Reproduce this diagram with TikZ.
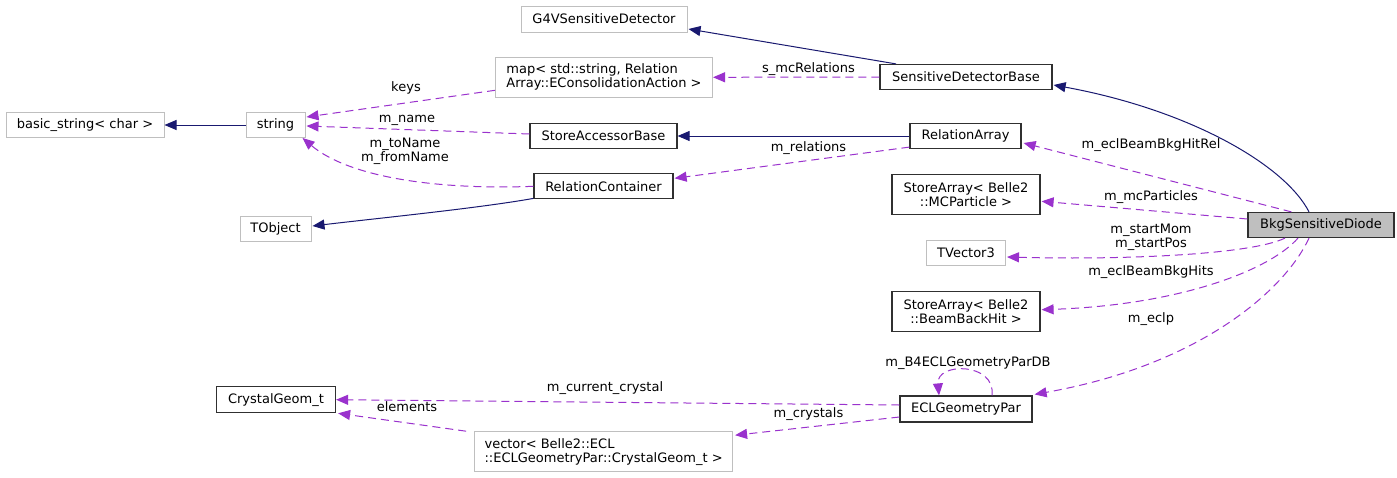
\documentclass[tikz,border=0pt]{standalone}
\usepackage{fontspec}
\setmainfont{DejaVu Sans}
\usetikzlibrary{arrows.meta,calc}
\definecolor{inhc}{HTML}{191970}
\definecolor{usec}{HTML}{9A32CD}
\definecolor{grayb}{HTML}{BFBFBF}
\definecolor{darkb}{HTML}{303030}
\begin{document}
\begin{tikzpicture}[x=1pt,y=-1pt,font=\fontsize{13}{14}\selectfont]
\tikzset{
  box/.style={draw, line width=1pt, inner sep=0pt, minimum height=25pt},
  gbox/.style={box, draw=grayb},
  kbox/.style={box, draw=darkb, line width=1.2pt},
  inh/.style={draw=inhc, line width=1pt, -{Triangle[length=12pt,width=10pt]}},
  use/.style={draw=usec, line width=1pt, dash pattern=on 8pt off 5pt, -{Triangle[length=12pt,width=10pt]}},
  lbl/.style={inner sep=0pt, align=center}
}
\useasboundingbox[fill=white] (0,0) rectangle (1397,477);
% nodes
\node[gbox, minimum width=166pt, minimum height=26pt] (g4v) at (604,19) {G4VSensitiveDetector};
\node[gbox, minimum width=217pt, minimum height=40pt, align=left] (map) at (604,77.3) {map< std::string, Relation\\Array::EConsolidationAction >};
\node[gbox, minimum width=158pt] (bstr) at (85,125) {basic\_string< char >};
\node[gbox, minimum width=59pt] (str) at (275.5,125) {string};
\node[kbox, minimum width=147pt] (sab) at (603.5,136) {StoreAccessorBase};
\node[kbox, minimum width=139pt] (rc) at (603.5,186.3) {RelationContainer};
\node[gbox, minimum width=71pt] (tobj) at (275.5,229) {TObject};
\node[kbox, minimum width=172pt] (sdb) at (966,77) {SensitiveDetectorBase};
\node[kbox, minimum width=111pt] (ra) at (965.5,136) {RelationArray};
\node[kbox, minimum width=148pt, minimum height=40pt, align=center] (sa1) at (966,194.3) {StoreArray< Belle2\\::MCParticle >};
\node[kbox, fill=grayb, minimum width=146pt] (bsd) at (1321,225) {BkgSensitiveDiode};
\node[gbox, minimum width=79pt] (tv3) at (966,253) {TVector3};
\node[kbox, minimum width=148pt, minimum height=40pt, align=center] (sa2) at (966,311.7) {StoreArray< Belle2\\::BeamBackHit >};
\node[kbox, minimum width=132pt, minimum height=26pt] (ecl) at (966,409) {ECLGeometryPar};
\node[kbox, minimum width=119pt, minimum height=26pt] (cg) at (276,399.7) {CrystalGeom\_t};
\node[gbox, minimum width=258pt, minimum height=40pt, align=left] (vec) at (603.6,451.7) {vector< Belle2::ECL\\::ECLGeometryPar::CrystalGeom\_t >};
% inheritance edges
\draw[inh] ($(sdb.north)+(-70,0)$) -- ($(g4v.east)+(1,10)$);
\draw[inh] ($(bsd.north)+(-12,0)$) .. controls (1285,165) and (1190,110) .. ($(sdb.east)+(1,8)$);
\draw[inh] (ra.west) -- (sab.east);
\draw[inh] (str.west) -- (bstr.east);
\draw[inh] ($(rc.south west)+(0,-1)$) .. controls (480,208) and (380,218) .. ($(tobj.east)+(1,-3)$);
% usage edges
\draw[use] ($(map.west)+(0,13)$) -- ($(str.east)+(1,-8)$);
\draw[use] ($(sab.west)+(0,-2)$) -- ($(str.east)+(1,1)$);
\draw[use] (rc.west) .. controls (440,190) and (350,178) .. ($(str.south east)+(-3,0)$);
\draw[use] ($(ra.south west)+(0,-2)$) -- ($(rc.east)+(1,-8)$);
\draw[use] (sdb.west) -- (map.east);
\draw[use] ($(bsd.north west)+(44,0)$) -- ($(ra.east)+(2,7)$);
\draw[use] ($(bsd.west)+(0,-6)$) -- ($(sa1.east)+(1,7)$);
\draw[use] ($(bsd.south)+(-36,0)$) .. controls (1250,255) and (1120,260) .. ($(tv3.east)+(1,4)$);
\draw[use] ($(bsd.south)+(-23,0)$) .. controls (1270,270) and (1180,305) .. ($(sa2.east)+(1,-2)$);
\draw[use] ($(bsd.south)+(-12,0)$) .. controls (1285,290) and (1200,365) .. ($(ecl.north east)+(2,-1)$);
\draw[use] ($(ecl.north)+(26,0)$) .. controls (996,362) and (936,362) .. ($(ecl.north)+(-27,0)$);
\draw[use] ($(ecl.west)+(0,-4)$) -- (cg.east);
\draw[use] ($(ecl.west)+(0,8)$) -- ($(vec.north east)+(2,4)$);
\draw[use] ($(vec.north west)+(-8,0)$) -- ($(cg.south east)+(2,0)$);
% labels
\node[lbl] (lkeys) at (406,88) {keys};
\node[lbl] (lname) at (407,120.7) {m\_name};
\node[lbl] (ltoname) at (405,151) {m\_toName\\m\_fromName};
\node[lbl] (lrel) at (808.5,147.7) {m\_relations};
\node[lbl] (lmcrel) at (808.5,69) {s\_mcRelations};
\node[lbl] (lhitrel) at (1151,145) {m\_eclBeamBkgHitRel};
\node[lbl] (lmcp) at (1151,196.7) {m\_mcParticles};
\node[lbl] (lstart) at (1151,237.5) {m\_startMom\\m\_startPos};
\node[lbl] (lhits) at (1151,271.7) {m\_eclBeamBkgHits};
\node[lbl] (leclp) at (1151,319) {m\_eclp};
\node[lbl] (ldb) at (968,363.3) {m\_B4ECLGeometryParDB};
\node[lbl] (lcur) at (605,388.3) {m\_current\_crystal};
\node[lbl] (lcrys) at (808.5,414.3) {m\_crystals};
\node[lbl] (lelem) at (407,406.7) {elements};
\end{tikzpicture}
\end{document}
